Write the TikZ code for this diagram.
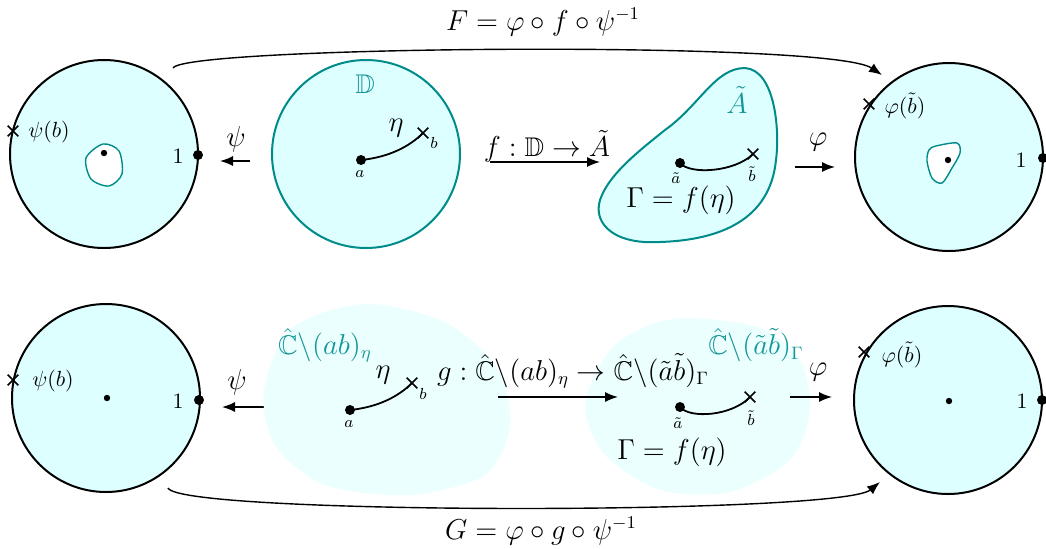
\documentclass[tikz,border=0pt]{standalone}
\usepackage{amsmath,amssymb}
\usetikzlibrary{arrows.meta,shapes.misc}
\definecolor{tealc}{RGB}{0,139,139}
\definecolor{tealt}{RGB}{20,150,150}
\definecolor{fillc}{RGB}{222,255,255}
\definecolor{fillb}{RGB}{236,255,255}
\begin{document}
\begin{tikzpicture}[x=0.5pt,y=-0.5pt,
  big/.style={font=\fontsize{13.5}{16}\selectfont,inner sep=1pt},
  mid/.style={font=\fontsize{10.5}{12}\selectfont,inner sep=1pt},
  sml/.style={font=\fontsize{8.5}{10}\selectfont,inner sep=1pt},
  unitdisk/.style={circle,draw=black,line width=1pt,fill=fillc,minimum size=94pt,inner sep=0pt},
  ddisk/.style={circle,draw=tealc,line width=1pt,fill=fillc,minimum size=94pt,inner sep=0pt},
  bigdot/.style={circle,fill=black,inner sep=0pt,minimum size=5pt},
  smdot/.style={circle,fill=black,inner sep=0pt,minimum size=3.2pt},
  xmark/.style={cross out,draw=black,line width=0.8pt,inner sep=0pt,minimum size=4.5pt},
  map/.style={-{Latex[length=6.5pt,width=5pt]},line width=0.7pt},
  curvep/.style={line width=0.9pt},
  tl/.style={text=tealt},
  inner/.style={draw=tealc,line width=0.7pt,fill=white},
  blob/.style={draw=tealc,line width=1pt,fill=fillc}
]
\useasboundingbox (0,0) rectangle (1046,548);

% ================= TOP ROW =================
% left unit disk
\node[unitdisk] (L1) at (104,154) {};
\draw[inner] plot[smooth cycle] coordinates {(103,144) (119,151) (122,174) (109,186) (91,179) (86,158)};
\node[smdot] (L1c) at (104,153) {};
\node[bigdot] (L1one) at (198,155) {};
\node[mid] (L1onel) at (178,156) {$1$};
\node[xmark] (L1b) at (13,131) {};
\node[mid] (L1bl) at (49,132) {$\psi(b)$};

% psi arrow
\coordinate (p1s) at (250,161);
\coordinate (p1e) at (220,161);
\draw[map] (p1s) -- (p1e);
\node[big] (p1l) at (236,139) {$\psi$};

% D disk
\node[ddisk] (D) at (366,154) {};
\node[big,tl] (Dl) at (365,84) {$\mathbb{D}$};
\node[bigdot] (Da) at (361,160) {};
\node[xmark] (Db) at (423,133) {};
\draw[curvep] (Da.center) .. controls (390,157) and (410,146) .. (Db.center);
\node[sml] (Dal) at (360,174) {$a$};
\node[sml] (Dbl) at (434,143) {$b$};
\node[big] (Deta) at (396,128) {$\eta$};

% f arrow
\coordinate (fs) at (490,162);
\coordinate (fe) at (600,162);
\draw[map] (fs) -- (fe);
\node[big] (fl) at (547,146) {$f:\mathbb{D}\to\tilde A$};

% A tilde blob
\draw[blob] (745,68) .. controls (775,70) and (780,130) .. (776,160)
  .. controls (770,220) and (720,240) .. (660,242)
  .. controls (610,245) and (590,220) .. (602,195)
  .. controls (612,172) and (640,150) .. (665,130)
  .. controls (700,105) and (715,68) .. cycle;
\node[big,tl] (Al) at (737,100) {$\tilde A$};
\node[bigdot] (Aa) at (680,163) {};
\node[xmark] (Ab) at (753,154) {};
\draw[curvep] (Aa.center) .. controls (690,175) and (735,172) .. (Ab.center);
\node[sml] (Aal) at (676,178) {$\tilde a$};
\node[sml] (Abl) at (752,174) {$\tilde b$};
\node[big] (AG) at (681,200) {$\Gamma=f(\eta)$};

% phi arrow
\coordinate (ph1s) at (795,167);
\coordinate (ph1e) at (835,167);
\draw[map] (ph1s) -- (ph1e);
\node[big] (ph1l) at (818,142) {$\varphi$};

% right unit disk
\node[unitdisk] (R1) at (949,157) {};
\draw[inner] plot[smooth cycle] coordinates {(936,146) (957,143) (960,153) (952,168) (942,183) (932,178) (927,161) (929,150)};
\node[smdot] (R1c) at (948,160) {};
\node[bigdot] (R1one) at (1043,158) {};
\node[mid] (R1onel) at (1021,160) {$1$};
\node[xmark] (R1b) at (869,104) {};
\node[mid] (R1bl) at (905,106) {$\varphi(\tilde b)$};

% F arc
\coordinate (Fs) at (173,68);
\coordinate (Fe) at (882,75);
\draw[map] (Fs) .. controls (185,46) and (830,40) .. (Fe);
\node[big] (Fl) at (543,22) {$F=\varphi\circ f\circ\psi^{-1}$};

% ================= BOTTOM ROW =================
% left unit disk
\node[unitdisk] (L2) at (106,398) {};
\node[smdot] (L2c) at (107,398) {};
\node[bigdot] (L2one) at (199,400) {};
\node[mid] (L2onel) at (178,401) {$1$};
\node[xmark] (L2b) at (13,380) {};
\node[mid] (L2bl) at (53,381) {$\psi(b)$};

% psi arrow
\coordinate (p2s) at (265,407);
\coordinate (p2e) at (222,407);
\draw[map] (p2s) -- (p2e);
\node[big] (p2l) at (237,382) {$\psi$};

% blob 1
\fill[fillb] plot[smooth cycle] coordinates {(365,304) (445,322) (497,368) (510,425) (485,475) (410,495) (325,485) (275,445) (264,390) (292,328)};
\node[big,tl] (B1l) at (325,345) {$\hat{\mathbb{C}}\backslash(ab)_\eta$};
\node[bigdot] (B1a) at (350,410) {};
\node[xmark] (B1b) at (412,383) {};
\draw[curvep] (B1a.center) .. controls (379,407) and (399,396) .. (B1b.center);
\node[sml] (B1al) at (349,424) {$a$};
\node[sml] (B1bl) at (423,394) {$b$};
\node[big] (B1eta) at (383,375) {$\eta$};

% blob 2
\fill[fillb] plot[smooth cycle] coordinates {(690,318) (760,328) (800,360) (810,410) (790,460) (730,492) (660,490) (605,455) (585,405) (610,350) (650,325)};
\node[big,tl] (B2l) at (756,345) {$\hat{\mathbb{C}}\backslash(\tilde a\tilde b)_\Gamma$};
\node[bigdot] (B2a) at (680,407) {};
\node[xmark] (B2b) at (750,397) {};
\draw[curvep] (B2a.center) .. controls (690,419) and (732,416) .. (B2b.center);
\node[sml] (B2al) at (678,423) {$\tilde a$};
\node[sml] (B2bl) at (751,418) {$\tilde b$};
\node[big] (B2G) at (672,452) {$\Gamma=f(\eta)$};

% g arrow
\coordinate (gs) at (498,397);
\coordinate (ge) at (618,397);
\draw[map] (gs) -- (ge);
\node[big] (gl) at (573,371) {$g:\hat{\mathbb{C}}\backslash(ab)_\eta\to\hat{\mathbb{C}}\backslash(\tilde a\tilde b)_\Gamma$};

% phi arrow
\coordinate (ph2s) at (790,397);
\coordinate (ph2e) at (832,397);
\draw[map] (ph2s) -- (ph2e);
\node[big] (ph2l) at (818,372) {$\varphi$};

% right unit disk
\node[unitdisk] (R2) at (948,400) {};
\node[smdot] (R2c) at (949,401) {};
\node[bigdot] (R2one) at (1042,400) {};
\node[mid] (R2onel) at (1022,401) {$1$};
\node[xmark] (R2b) at (864,352) {};
\node[mid] (R2bl) at (902,355) {$\varphi(\tilde b)$};

% G arc
\coordinate (Gs) at (168,488);
\coordinate (Ge) at (880,482);
\draw[map] (Gs) .. controls (180,515) and (840,515) .. (Ge);
\node[big] (Gl) at (541,531) {$G=\varphi\circ g\circ\psi^{-1}$};
\end{tikzpicture}
\end{document}
